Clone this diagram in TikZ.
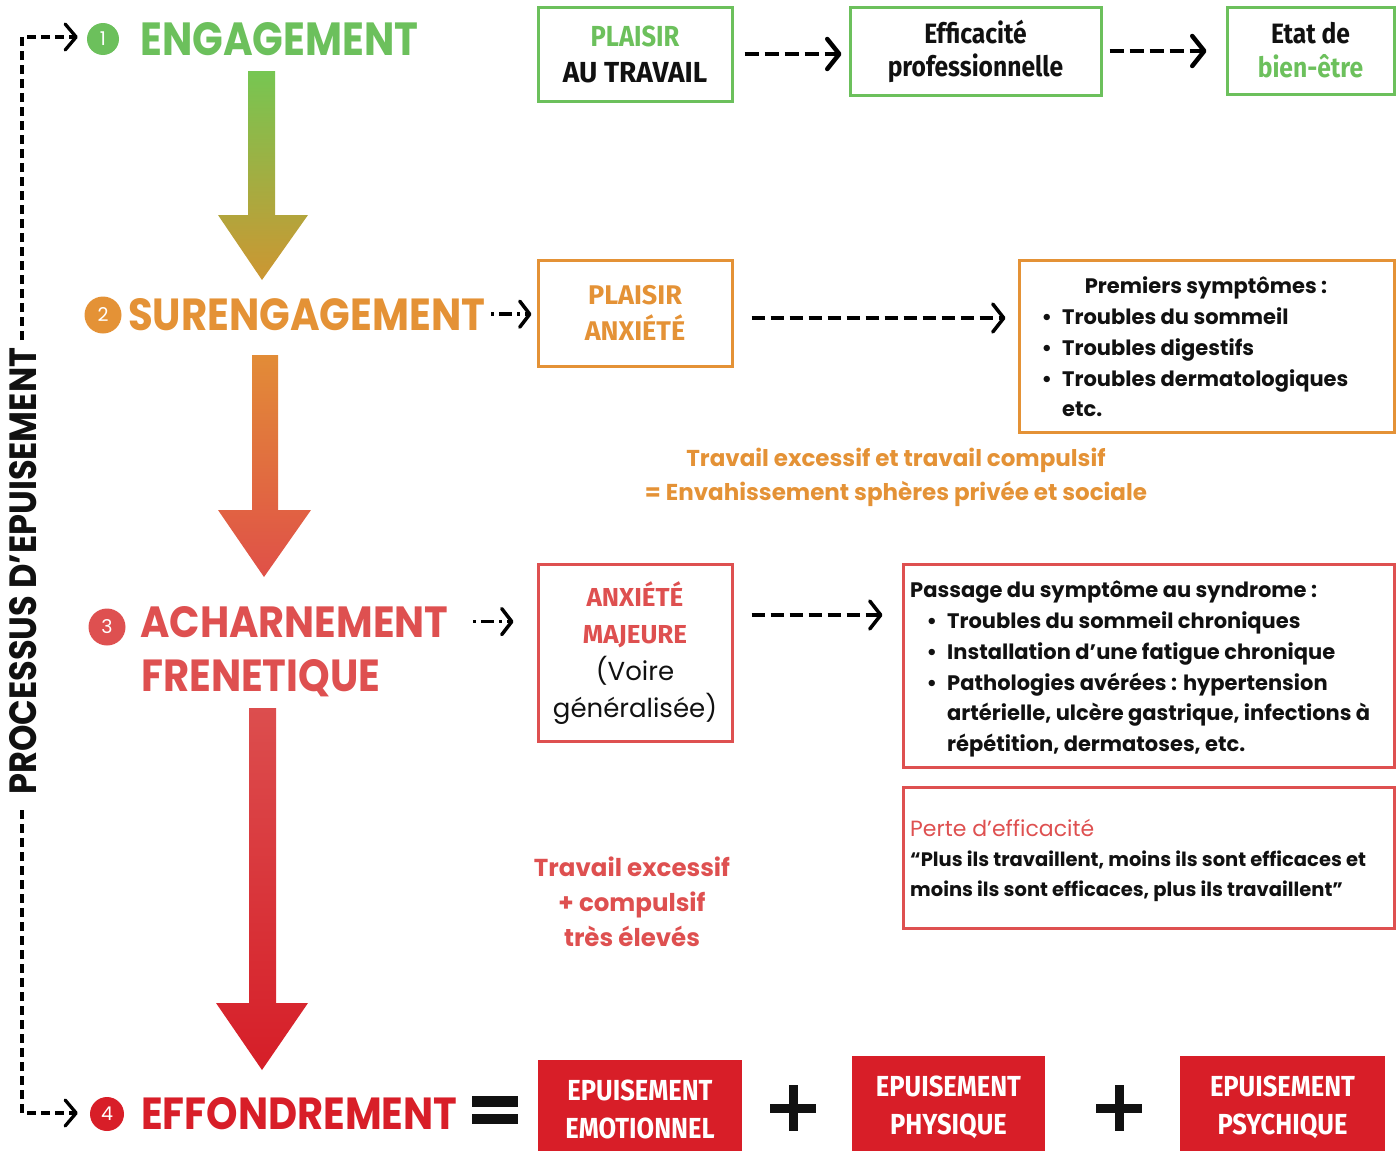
\documentclass[tikz,border=0pt]{standalone}
\usepackage{fontspec}
\setmainfont{Poppins}
\newfontfamily\firab{Fira Sans}
\newfontfamily\condf[FakeStretch=0.88]{Fira Sans}
\usetikzlibrary{arrows.meta}
\definecolor{cgreen}{RGB}{108,192,92}
\definecolor{corange}{RGB}{228,146,54}
\definecolor{cred3}{RGB}{222,80,80}
\definecolor{cred4}{RGB}{216,30,40}
\definecolor{ga1}{RGB}{118,198,82}
\definecolor{ga2}{RGB}{205,150,50}
\definecolor{gb1}{RGB}{226,140,55}
\definecolor{gb2}{RGB}{224,80,72}
\definecolor{gc1}{RGB}{220,78,78}
\definecolor{gc2}{RGB}{214,30,40}
\definecolor{ink}{RGB}{17,17,17}
\newcommand\bul{\llap{•\hspace{10pt}}}
\newcommand\topstrut{\rule{0pt}{28pt}}
\tikzset{
  numc/.style={circle, inner sep=0pt, text=white, font=\fontsize{19}{19}\selectfont},
  ttl/.style={anchor=base west, inner sep=0pt, font=\bfseries},
  framebox/.style={draw, line width=3pt, inner sep=0pt, align=center},
  redbox/.style={fill=cred4, inner sep=0pt, align=center, text=white, font=\condf\bfseries\fontsize{29}{38}\selectfont},
  btxt/.style={anchor=base west, inner sep=0pt, text=ink, font=\bfseries\fontsize{21}{30}\selectfont},
  otxt/.style={anchor=base, inner sep=0pt, text=corange, font=\bfseries\fontsize{23}{30}\selectfont},
  rtxt/.style={anchor=base, inner sep=0pt, text=cred3, font=\bfseries\fontsize{24.5}{30}\selectfont},
  dashbig/.style={line width=4.5pt, dash pattern=on 14pt off 6pt, -{Straight Barb[length=12pt,width=30pt,round]}},
  dashmid/.style={line width=3.5pt, dash pattern=on 13pt off 6pt, -{Straight Barb[length=11pt,width=28pt,round]}},
  dashsmall/.style={line width=3.5pt, dash pattern=on 3pt off 5pt on 13pt off 5pt, -{Straight Barb[length=10pt,width=26pt,round]}},
  vdash/.style={line width=3.3pt, dash pattern=on 9pt off 5pt, -{Straight Barb[length=11pt,width=26pt,round]}}
}
\begin{document}
\begin{tikzpicture}[x=1pt,y=1pt]
\useasboundingbox (0,0) rectangle (1400,-1151);

% big gradient arrows
\shade[top color=ga1, bottom color=ga2] (248,-71) -- (275,-71) -- (275,-215) -- (308,-215) -- (262,-280) -- (218,-215) -- (248,-215) -- cycle;
\shade[top color=gb1, bottom color=gb2] (252,-355) -- (278,-355) -- (278,-510) -- (311,-510) -- (264,-577) -- (218,-510) -- (252,-510) -- cycle;
\shade[top color=gc1, bottom color=gc2] (249,-708) -- (276,-708) -- (276,-1003) -- (308,-1003) -- (262,-1070) -- (216,-1003) -- (249,-1003) -- cycle;

% numbered circles
\node[numc, fill=cgreen, minimum size=32pt] (c1) at (103,-39) {1};
\node[numc, fill=corange, minimum size=37pt] (c2) at (103,-315) {2};
\node[numc, fill=cred3, minimum size=37pt] (c3) at (107,-627) {3};
\node[numc, fill=cred4, minimum size=34pt] (c4) at (107,-1114) {4};

% titles
\node[ttl, text=cgreen] (t1) at (140,-55) {\resizebox{278pt}{33pt}{ENGAGEMENT}};
\node[ttl, text=corange] (t2) at (128,-330) {\resizebox{357pt}{32pt}{SURENGAGEMENT}};
\node[ttl, text=cred3] (t3a) at (140,-637) {\resizebox{308pt}{31pt}{ACHARNEMENT}};
\node[ttl, text=cred3] (t3b) at (141,-691) {\resizebox{239pt}{32pt}{FRENETIQUE}};
\node[ttl, text=cred4] (t4) at (141,-1129) {\resizebox{316pt}{32pt}{EFFONDREMENT}};

% vertical label and dashed process line
\node[ttl, rotate=90, text=ink] (vt) at (37,-795) {\resizebox{447pt}{27pt}{PROCESSUS D’EPUISEMENT}};
\coordinate (lt) at (22,-37);
\coordinate (lb) at (22,-1113);
\coordinate (g1) at (22,-340);
\coordinate (g2) at (22,-810);
\draw[vdash, shorten >=9pt] (g1) -- (lt) -- (lt -| c1.west);
\draw[vdash, shorten >=12pt] (g2) -- (lb) -- (lb -| c4.west);

% row 1 boxes
\node[framebox, draw=cgreen, minimum width=194pt, minimum height=94pt, text=ink, font=\condf\bfseries\fontsize{29}{36}\selectfont] (b1) at (635,-54) {\textcolor{cgreen}{PLAISIR}\\\scalebox{1.1}[1]{AU TRAVAIL}};
\node[framebox, draw=cgreen, minimum width=251pt, minimum height=88pt, text=ink, font=\condf\bfseries\fontsize{28}{33}\selectfont] (b2) at (975.5,-51) {Efficacité\\professionnelle};
\node[framebox, draw=cgreen, minimum width=167pt, minimum height=87pt, text=ink, font=\condf\bfseries\fontsize{28}{34}\selectfont] (b3) at (1310.5,-50.5) {Etat de\\\textcolor{cgreen}{bien-être}};
\draw[dashbig, shorten <=11pt, shorten >=7pt] (b1.east) -- (b1.east -| b2.west);
\draw[dashbig, shorten <=7pt, shorten >=19pt] (b2.east) -- (b2.east -| b3.west);

% row 2
\node[framebox, draw=corange, minimum width=194pt, minimum height=106pt, text=corange, font=\firab\bfseries\fontsize{27}{36}\selectfont] (r2a) at (635,-313) {PLAISIR\\ANXIÉTÉ};
\node[framebox, draw=corange, minimum width=375pt, minimum height=172pt] (r2b) at (1206.5,-346) {};
\draw[dashsmall, shorten <=6pt, shorten >=5pt] (t2.east) -- (t2.east -| r2a.west);
\draw[dashmid, shorten <=18pt, shorten >=12pt] ([yshift=-5pt]r2a.east) -- ([yshift=-5pt]r2a.east -| r2b.west);
\node[btxt, anchor=base] (p0) at (1206,-293) {Premiers symptômes :};
\node[btxt] (p1) at (1062,-324) {\bul Troubles du sommeil};
\node[btxt] (p2) at (1062,-355) {\bul Troubles digestifs};
\node[btxt] (p3) at (1062,-386) {\bul Troubles dermatologiques};
\node[btxt] (p4) at (1062,-416) {etc.};
\node[otxt] (o1) at (896,-466) {Travail excessif et travail compulsif};
\node[otxt] (o2) at (896,-500) {= Envahissement sphères privée et sociale};

% row 3
\node[framebox, draw=cred3, minimum width=194pt, minimum height=177pt, text=ink, font=\fontsize{26}{37}\selectfont] (r3a) at (635,-653) {{\firab\bfseries\color{cred3}ANXIÉTÉ}\\{\firab\bfseries\color{cred3}MAJEURE}\\(Voire\\généralisée)};
\node[framebox, draw=cred3, minimum width=491pt, minimum height=203pt] (r3b) at (1148.5,-665.5) {};
\node[framebox, draw=cred3, minimum width=491pt, minimum height=141pt] (r3c) at (1148.5,-857.5) {};
\draw[dashsmall, shorten <=25pt, shorten >=23pt] (t3a.east) -- (t3a.east -| r3a.west);
\draw[dashmid, shorten <=18pt, shorten >=19pt] ([yshift=38pt]r3a.east) -- ([yshift=38pt]r3a.east -| r3b.west);
\node[btxt] (s0) at (910,-597) {Passage du symptôme au syndrome :};
\node[btxt] (s1) at (947,-628) {\bul Troubles du sommeil chroniques};
\node[btxt] (s2) at (947,-659) {\bul Installation d’une fatigue chronique};
\node[btxt] (s3) at (947,-690) {\bul Pathologies avérées : hypertension};
\node[btxt] (s4) at (947,-720) {artérielle, ulcère gastrique, infections à};
\node[btxt] (s5) at (947,-751) {répétition, dermatoses, etc.};
\node[btxt, text=cred3, font=\fontsize{22}{30}\selectfont] (q0) at (910,-836) {Perte d’efficacité};
\node[btxt, font=\bfseries\fontsize{19.5}{30}\selectfont] (q1) at (910,-866) {“Plus ils travaillent, moins ils sont efficaces et};
\node[btxt, font=\bfseries\fontsize{19.5}{30}\selectfont] (q2) at (910,-896) {moins ils sont efficaces, plus ils travaillent”};
\node[rtxt] (w1) at (632,-876) {Travail excessif};
\node[rtxt] (w2) at (632,-911) {+ compulsif};
\node[rtxt] (w3) at (632,-946) {très élevés};

% row 4
\fill[ink] (472,-1096) rectangle (518,-1107);
\fill[ink] (472,-1114) rectangle (518,-1124);
\node[redbox, minimum width=204pt, minimum height=91pt] (e1) at (640,-1105.5) {\topstrut EPUISEMENT\\EMOTIONNEL};
\node[redbox, minimum width=193pt, minimum height=95pt] (e2) at (948.5,-1103.5) {\topstrut EPUISEMENT\\PHYSIQUE};
\node[redbox, minimum width=205pt, minimum height=95pt] (e3) at (1282.5,-1103.5) {\topstrut EPUISEMENT\\PSYCHIQUE};
\fill[ink] (770,-1104) rectangle (816,-1113);
\fill[ink] (788.5,-1085) rectangle (797.5,-1131);
\fill[ink] (1096,-1104) rectangle (1142,-1113);
\fill[ink] (1114.5,-1085) rectangle (1123.5,-1131);
\end{tikzpicture}
\end{document}
